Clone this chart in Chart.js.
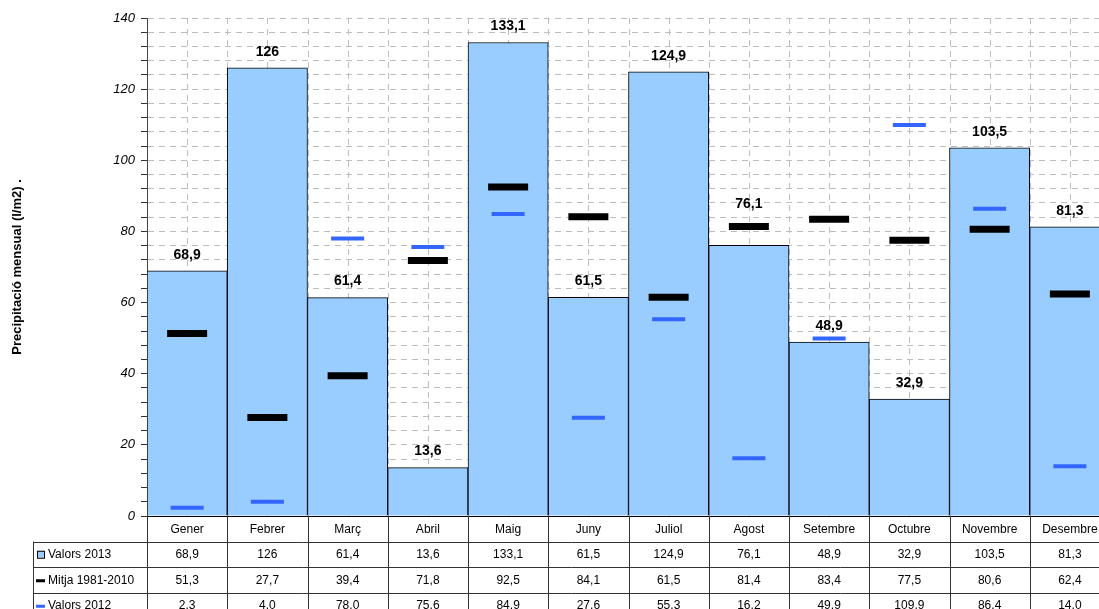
<!DOCTYPE html>
<html>
<head>
<meta charset="utf-8">
<script src="https://cdn.jsdelivr.net/npm/chart.js@4/dist/chart.umd.min.js"></script>
<style>
  html, body { margin: 0; padding: 0; background: #fff; overflow: hidden; }
  canvas { display: block; }
</style>
</head>
<body>
<canvas id="rain-chart" width="1110" height="609"></canvas>
<script>
const months = ['Gener', 'Febrer', 'Març', 'Abril', 'Maig', 'Juny', 'Juliol', 'Agost', 'Setembre', 'Octubre', 'Novembre', 'Desembre'];
const valors2013 = [68.9, 126, 61.4, 13.6, 133.1, 61.5, 124.9, 76.1, 48.9, 32.9, 103.5, 81.3];
const mitja = [51.3, 27.7, 39.4, 71.8, 92.5, 84.1, 61.5, 81.4, 83.4, 77.5, 80.6, 62.4];
const valors2012 = [2.3, 4.0, 78.0, 75.6, 84.9, 27.6, 55.3, 16.2, 49.9, 109.9, 86.4, 14.0];

const FONT = '"Liberation Sans", Arial, sans-serif';
const BAR_COLOR = '#99CCFF';
const BLUE = '#3366FF';
const GRID = '#bdbdbd';

function comma(v, fixed) {
    return (fixed ? v.toFixed(1) : String(v)).replace('.', ',');
}

// dashed grid columns at category centres and boundaries
const columnGrid = {
    id: 'columnGrid',
    beforeDatasetsDraw(chart) {
        const { ctx, chartArea, scales: { x } } = chart;
        const w = x.getPixelForValue(1) - x.getPixelForValue(0);
        ctx.save();
        ctx.strokeStyle = GRID;
        ctx.lineWidth = 1;
        ctx.setLineDash([6, 5]);
        for (let i = 0; i < months.length; i++) {
            const cx = x.getPixelForValue(i);
            [cx, cx + w / 2].forEach(px => {
                ctx.beginPath();
                ctx.moveTo(Math.round(px) + 0.5, chartArea.top);
                ctx.lineTo(Math.round(px) + 0.5, chartArea.bottom);
                ctx.stroke();
            });
        }
        ctx.restore();
    }
};

// value labels over the bars, lifted above a marker when they would overlap it
const barLabels = {
    id: 'barLabels',
    afterDatasetsDraw(chart) {
        const { ctx, scales: { y } } = chart;
        const meta = chart.getDatasetMeta(0);
        ctx.save();
        ctx.font = 'bold 14px ' + FONT;
        ctx.fillStyle = '#000';
        ctx.textAlign = 'center';
        ctx.textBaseline = 'bottom';
        meta.data.forEach((bar, i) => {
            let base = bar.y - 9;
            [mitja[i], valors2012[i]].forEach(v => {
                const my = y.getPixelForValue(v);
                if (my > base - 16 && my < base + 4) base = Math.min(base, my - 15);
            });
            ctx.fillText(comma(valors2013[i]), bar.x, base);
        });
        ctx.restore();
    }
};

// data table under the plot
const dataTable = {
    id: 'dataTable',
    afterDraw(chart) {
        const { ctx, chartArea, scales: { x } } = chart;
        const w = x.getPixelForValue(1) - x.getPixelForValue(0);
        const rowH = 25.5;
        const top = chartArea.bottom;
        const legLeft = chartArea.left - 114;
        const right = chartArea.right;
        const bottom = chart.height + 5;

        ctx.save();
        ctx.strokeStyle = '#333';
        ctx.lineWidth = 1;

        // horizontal rules
        for (let r = 1; r <= 3; r++) {
            const yy = Math.round(top + r * rowH) + 0.5;
            ctx.beginPath();
            ctx.moveTo(legLeft, yy);
            ctx.lineTo(right, yy);
            ctx.stroke();
        }
        // vertical rules
        ctx.beginPath();
        ctx.moveTo(legLeft + 0.5, top + rowH);
        ctx.lineTo(legLeft + 0.5, bottom);
        ctx.stroke();
        for (let i = 0; i <= months.length; i++) {
            const px = Math.round(x.getPixelForValue(i) - w / 2) + 0.5;
            ctx.beginPath();
            ctx.moveTo(px, top);
            ctx.lineTo(px, bottom);
            ctx.stroke();
        }

        ctx.fillStyle = '#000';
        ctx.font = '12px ' + FONT;
        ctx.textAlign = 'center';
        ctx.textBaseline = 'middle';
        const rows = [
            months,
            valors2013.map(v => comma(v)),
            mitja.map(v => comma(v, true)),
            valors2012.map(v => comma(v, true))
        ];
        rows.forEach((row, r) => {
            const yy = top + r * rowH + rowH / 2 + 0.5;
            row.forEach((txt, i) => ctx.fillText(txt, x.getPixelForValue(i), yy));
        });

        // legend column
        const legends = ['Valors 2013', 'Mitja 1981-2010', 'Valors 2012'];
        ctx.textAlign = 'left';
        legends.forEach((txt, k) => {
            const yy = top + (k + 1) * rowH + rowH / 2 + 0.5;
            if (k === 0) {
                ctx.fillStyle = BAR_COLOR;
                ctx.fillRect(legLeft + 4, yy - 4, 7, 7);
                ctx.strokeStyle = '#000';
                ctx.strokeRect(legLeft + 4.5, yy - 3.5, 7, 7);
            } else {
                ctx.fillStyle = k === 1 ? '#000' : BLUE;
                ctx.fillRect(legLeft + 3, yy - 1, 9, 3);
            }
            ctx.fillStyle = '#000';
            ctx.fillText(txt, legLeft + 15, yy);
        });
        ctx.restore();
    }
};

const ctx = document.getElementById('rain-chart').getContext('2d');
new Chart(ctx, {
    type: 'bar',
    data: {
        labels: months,
        datasets: [
            {
                label: 'Valors 2013',
                data: valors2013,
                backgroundColor: BAR_COLOR,
                borderColor: '#000',
                borderWidth: 1,
                categoryPercentage: 1,
                barPercentage: 1,
                order: 3
            },
            {
                type: 'line',
                label: 'Mitja 1981-2010',
                data: mitja,
                showLine: false,
                pointStyle: 'line',
                pointRadius: 20,
                pointBorderWidth: 7,
                pointBorderColor: '#000',
                borderColor: '#000',
                clip: false,
                order: 2
            },
            {
                type: 'line',
                label: 'Valors 2012',
                data: valors2012,
                showLine: false,
                pointStyle: 'line',
                pointRadius: 16.5,
                pointBorderWidth: 4,
                pointBorderColor: BLUE,
                borderColor: BLUE,
                clip: false,
                order: 1
            }
        ]
    },
    options: {
        responsive: false,
        animation: false,
        events: [],
        layout: { autoPadding: false, padding: { top: 18, right: 0, bottom: 85, left: 0 } },
        plugins: {
            legend: { display: false },
            tooltip: { enabled: false }
        },
        scales: {
            x: {
                offset: true,
                ticks: { display: false },
                grid: { display: false },
                border: { color: '#000', width: 1 }
            },
            y: {
                min: 0,
                max: 140,
                afterFit(scale) { scale.width = 147; },
                ticks: {
                    stepSize: 4,
                    autoSkip: false,
                    padding: 6,
                    color: '#000',
                    font: { family: FONT, size: 13, style: 'italic' },
                    callback: v => (v % 20 === 0 ? v : '')
                },
                grid: {
                    color: GRID,
                    tickColor: '#333',
                    tickLength: 6,
                    tickBorderDash: [],
                    drawTicks: true
                },
                border: { color: '#444', width: 1, dash: [6, 5] },
                title: {
                    display: true,
                    text: 'Precipitació mensual (l/m2) .',
                    color: '#000',
                    font: { family: FONT, size: 13, weight: 'bold' },
                    padding: { top: 10, bottom: 0 }
                }
            }
        }
    },
    plugins: [columnGrid, barLabels, dataTable]
});
</script>
</body>
</html>
